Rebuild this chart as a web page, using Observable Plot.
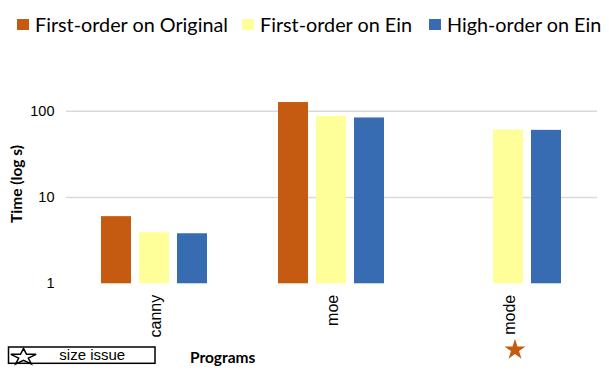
<!DOCTYPE html>
<html>
<head>
<meta charset="utf-8">
<script src="https://cdn.jsdelivr.net/npm/d3@7"></script>
<script src="https://cdn.jsdelivr.net/npm/@observablehq/plot@0.6"></script>
<style>
  html, body { margin: 0; padding: 0; background: #fff; }
  #wrap { position: relative; width: 609px; height: 372px; overflow: hidden; }
  #wrap > svg { position: absolute; left: 0; top: 0; }
</style>
</head>
<body>
<div id="wrap"></div>
<script>
// ---- data ----
const programs = ["canny", "moe", "mode"];
const seriesNames = ["First-order on Original", "First-order on Ein", "High-order on Ein"];
const firstOrderOriginal = [6.0, 126, null];
const firstOrderEin = [3.9, 87, 60.5];
const highOrderEin = [3.8, 83.5, 60];
const seriesColors = ["#C55A11", "#FFFF99", "#376CB2"];
const yTicks = [1, 10, 100];
const gridTicks = [10, 100];
const sizeIssuePrograms = ["mode"];
const noteLabel = "size issue";
const yLabel = "Time (log s)";
const xLabel = "Programs";

const seriesArrays = [firstOrderOriginal, firstOrderEin, highOrderEin];
const table = programs.flatMap((p, i) =>
  seriesArrays.map((arr, j) => ({program: p, series: seriesNames[j], value: arr[i]}))
).filter(d => d.value != null);

const chart = Plot.plot({
  width: 609,
  height: 372,
  marginLeft: 66,
  marginRight: 12,
  marginTop: 110.7,
  marginBottom: 88.7,
  style: {fontFamily: "'Liberation Sans', Arial, sans-serif", fontSize: "14.5px", color: "#000", background: "transparent", overflow: "visible"},
  fx: {domain: programs, padding: 0, label: null},
  x: {domain: seriesNames, paddingInner: 0.2, paddingOuter: 0.875, axis: null},
  y: {type: "log", domain: [1, 100], label: null},
  color: {domain: seriesNames, range: seriesColors},
  marks: [
    Plot.ruleY(gridTicks, {stroke: "#d9d9d9", strokeWidth: 1.5}),
    Plot.barY(table, {fx: "program", x: "series", y1: 1, y2: "value", fill: "series"}),
    Plot.axisY({ticks: yTicks, tickFormat: d => String(d), tickSize: 0, tickPadding: 12, label: null}),
    Plot.axisFx({anchor: "bottom", tickRotate: -90, tickSize: 0, tickPadding: 11, label: null, fontSize: 16, dx: 1}),
    Plot.dot(sizeIssuePrograms, {fx: d => d, frameAnchor: "bottom", dy: 66, dx: 6, symbol: "star", r: 6.6, fill: "#C55A11", stroke: "none"})
  ]
});
document.getElementById("wrap").appendChild(chart);

// ---- overlay: legend, axis titles, note box ----
const svg = d3.select("#wrap").append("svg")
  .attr("width", 609).attr("height", 372)
  .style("pointer-events", "none");

const legendX = [17, 242, 429];
const lg = svg.append("g");
seriesNames.forEach((name, i) => {
  lg.append("rect").attr("x", legendX[i]).attr("y", 19).attr("width", 12).attr("height", 11).attr("fill", seriesColors[i]);
  lg.append("text").attr("x", legendX[i] + 18).attr("y", 31.5)
    .attr("font-family", "Lato, 'Open Sans', sans-serif").attr("font-size", 19.8)
    .attr("fill", "#000").text(name);
});

svg.append("text")
  .attr("transform", "translate(21.5,184) rotate(-90)")
  .attr("text-anchor", "middle")
  .attr("font-family", "Lato, 'Open Sans', sans-serif").attr("font-weight", "bold").attr("font-size", 15.5)
  .text(yLabel);

svg.append("text")
  .attr("x", 190).attr("y", 362.5)
  .attr("font-family", "Lato, 'Open Sans', sans-serif").attr("font-weight", "bold").attr("font-size", 15.5)
  .text(xLabel);

svg.append("rect").attr("x", 8.5).attr("y", 347).attr("width", 146.5).attr("height", 16.3)
  .attr("fill", "none").attr("stroke", "#000").attr("stroke-width", 1.5);
svg.append("path")
  .attr("d", d3.symbol(d3.symbolStar, 150)())
  .attr("transform", "translate(23.5,357) scale(1.15,0.75)")
  .attr("fill", "none").attr("stroke", "#000").attr("stroke-width", 1.5)
  .attr("vector-effect", "non-scaling-stroke");
svg.append("text")
  .attr("x", 59.3).attr("y", 359.5)
  .attr("font-family", "'Liberation Sans', Arial, sans-serif").attr("font-size", 15)
  .text(noteLabel);
</script>
</body>
</html>
